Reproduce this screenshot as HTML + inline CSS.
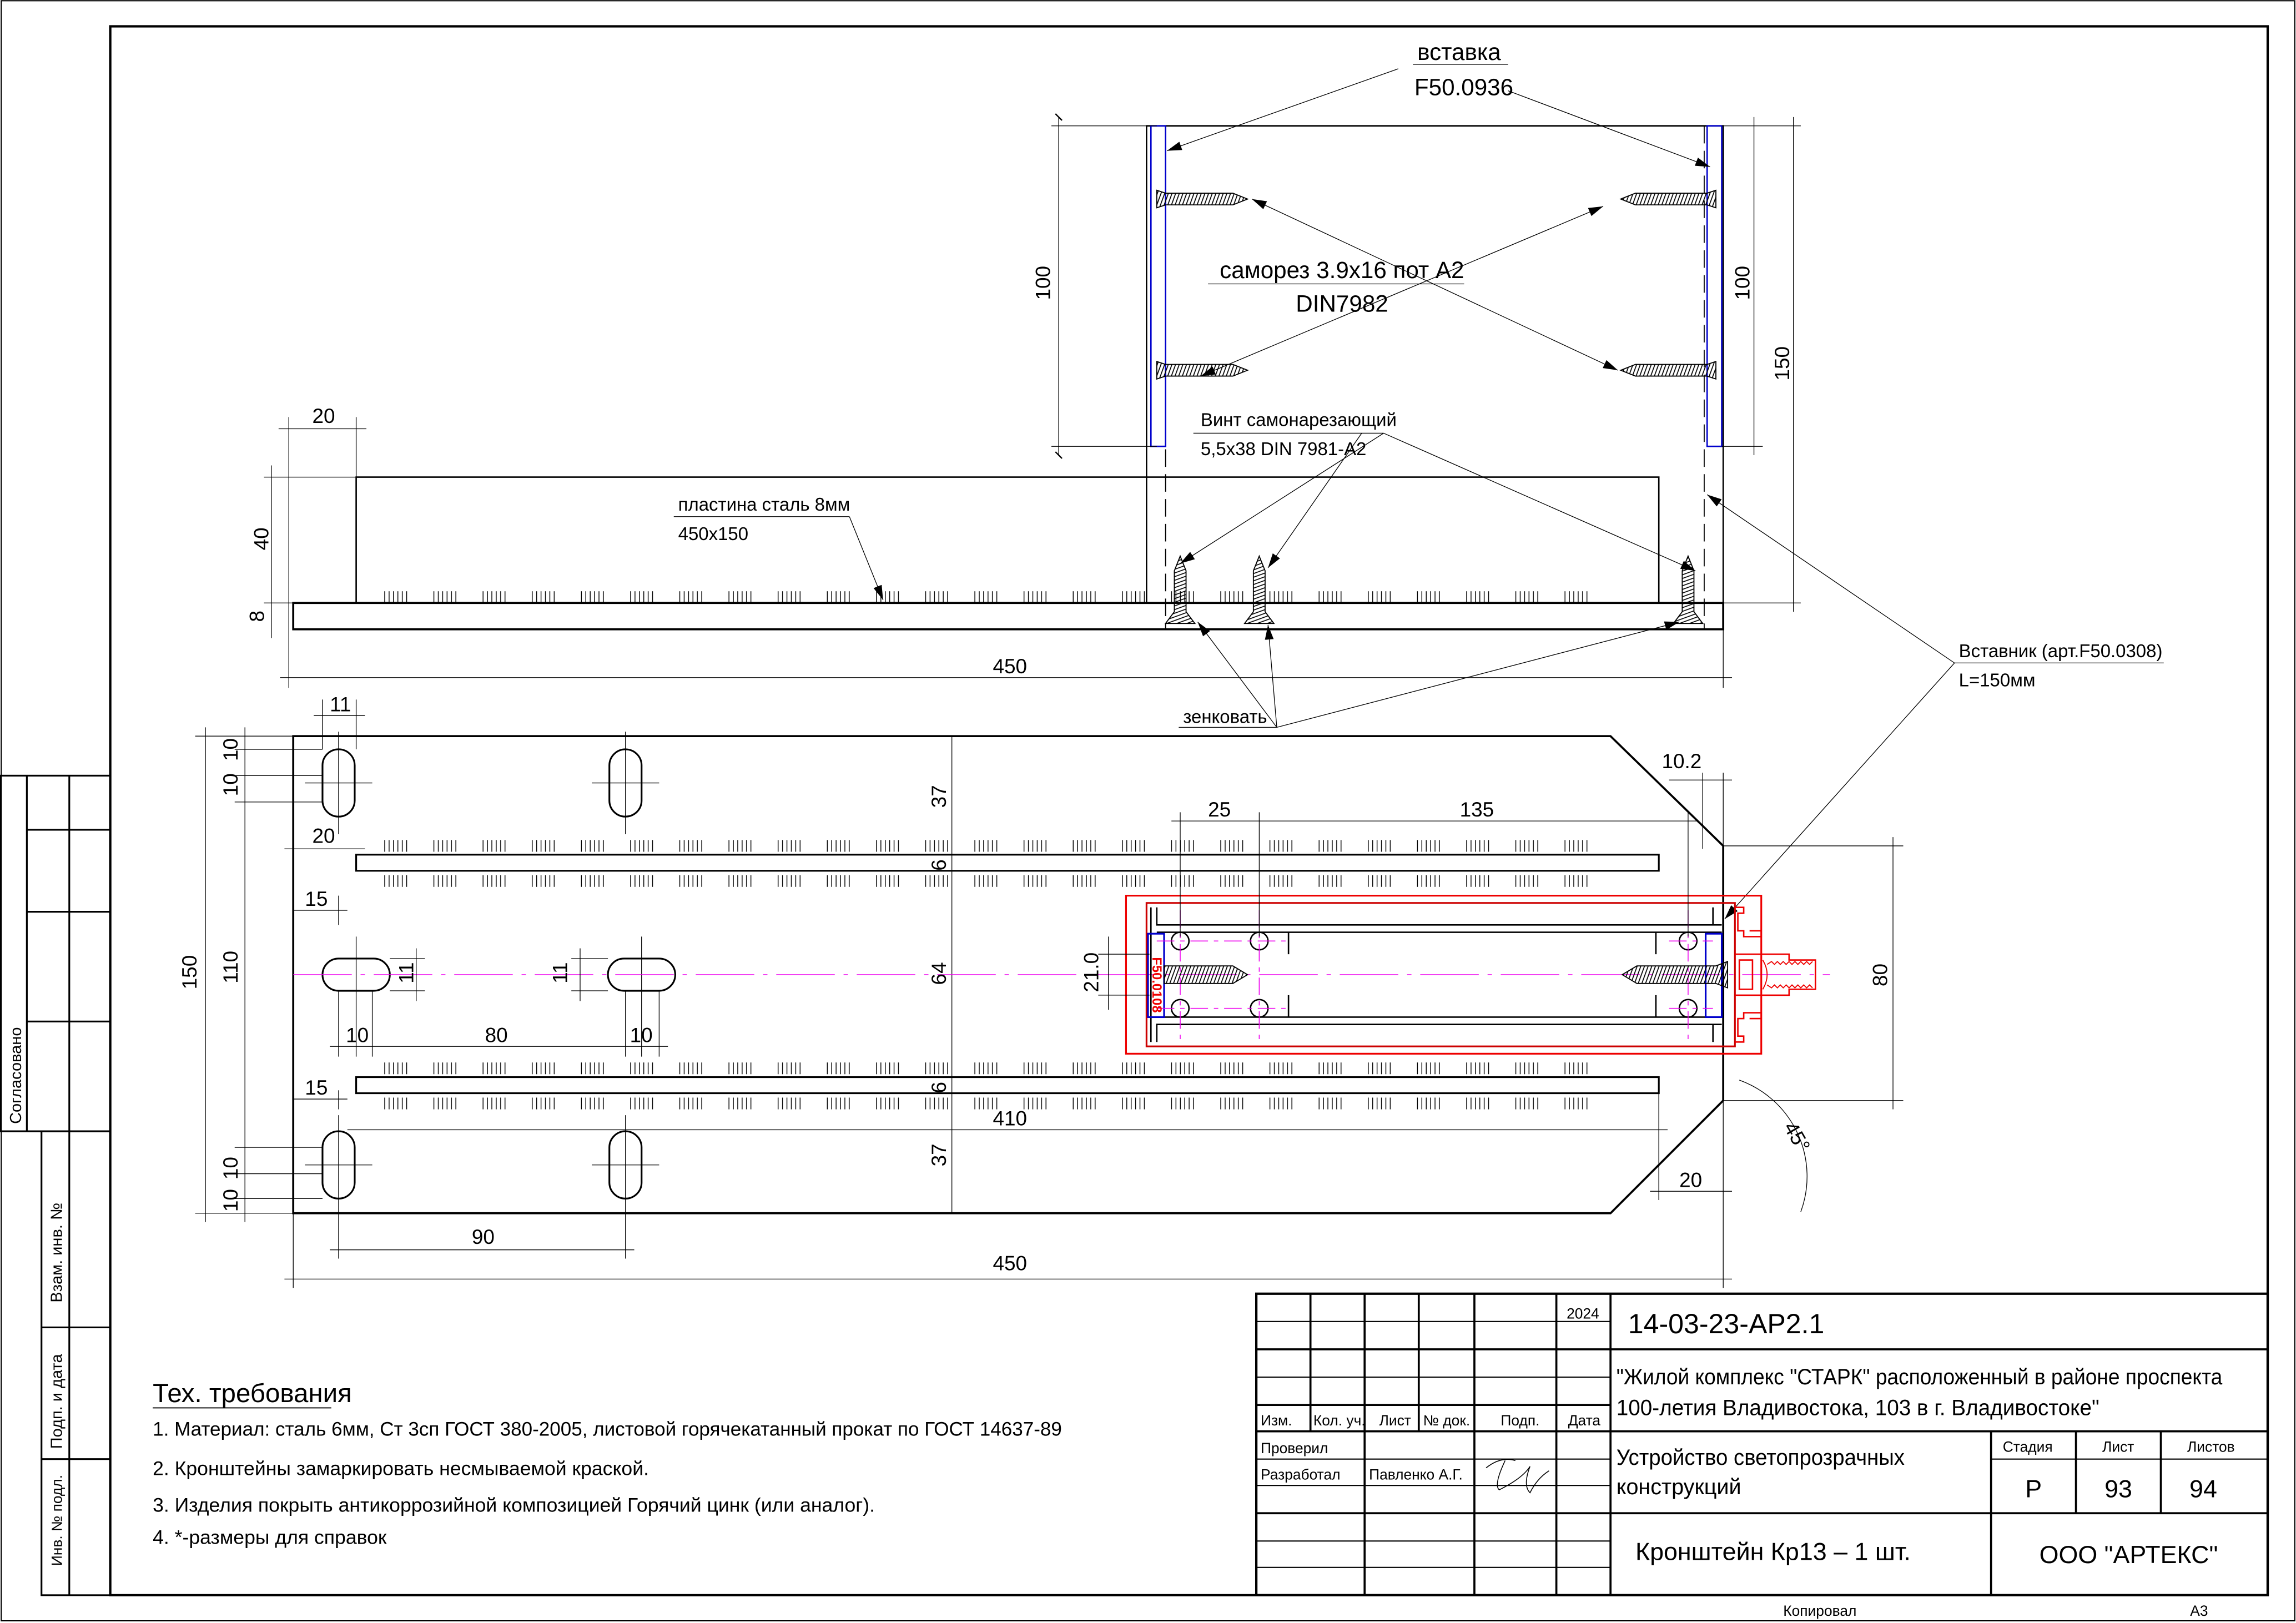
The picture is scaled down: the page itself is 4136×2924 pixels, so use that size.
<!DOCTYPE html>
<html><head><meta charset="utf-8"><style>
html,body{margin:0;padding:0;background:#fff}
svg{display:block}
text{font-family:"Liberation Sans Narrow","Liberation Sans",sans-serif;fill:#000}
</style></head><body>
<svg width="4136" height="2924" viewBox="0 0 1568 1109" xmlns="http://www.w3.org/2000/svg">
<defs>
<pattern id="tk" x="262" y="0" width="33.6" height="10" patternUnits="userSpaceOnUse">
<g stroke="#000" stroke-width="0.55"><line x1="0.5" y1="0" x2="0.5" y2="10"/><line x1="3.5" y1="0" x2="3.5" y2="10"/><line x1="6.5" y1="0" x2="6.5" y2="10"/><line x1="9.5" y1="0" x2="9.5" y2="10"/><line x1="12.5" y1="0" x2="12.5" y2="10"/><line x1="15.5" y1="0" x2="15.5" y2="10"/></g>
</pattern>
<pattern id="hs" width="2.5" height="10" patternUnits="userSpaceOnUse" patternTransform="skewX(-20)"><line x1="1" y1="0" x2="1" y2="10" stroke="#000" stroke-width="0.7"/></pattern>
<pattern id="hv" width="10" height="2.5" patternUnits="userSpaceOnUse" patternTransform="skewY(-20)"><line x1="0" y1="1" x2="10" y2="1" stroke="#000" stroke-width="0.7"/></pattern>
<marker id="ar" viewBox="0 0 10 6" refX="10" refY="3" markerWidth="10" markerHeight="6" markerUnits="userSpaceOnUse" orient="auto"><path d="M0,0L10,3L0,6z" fill="#000"/></marker>
<marker id="as" viewBox="0 0 10 6" refX="0" refY="3" markerWidth="10" markerHeight="6" markerUnits="userSpaceOnUse" orient="auto"><path d="M10,0L0,3L10,6z" fill="#000"/></marker>
<marker id="tkm" viewBox="0 0 8 8" refX="4" refY="4" markerWidth="6" markerHeight="6" markerUnits="userSpaceOnUse" orient="auto"><line x1="1" y1="7" x2="7" y2="1" stroke="#000" stroke-width="1.2"/></marker>
</defs>

<rect x="0.5" y="0.5" width="1567" height="1107" fill="none" stroke="#000" stroke-width="0.8"/>
<rect x="75" y="18" width="1474" height="1072" fill="none" stroke="#000" stroke-width="1.6"/>

<g fill="none" stroke="#000" stroke-width="1.2">
<rect x="0" y="530" width="75" height="243"/>
<line x1="18" y1="530" x2="18" y2="773"/><line x1="47" y1="530" x2="47" y2="773"/>
<line x1="18" y1="567" x2="75" y2="567"/><line x1="18" y1="623" x2="75" y2="623"/><line x1="18" y1="698" x2="75" y2="698"/>
<rect x="28" y="773" width="47" height="317"/>
<line x1="47" y1="773" x2="47" y2="1090"/>
<line x1="28" y1="907" x2="75" y2="907"/><line x1="28" y1="997" x2="75" y2="997"/>
</g>
<g font-size="11">
<text transform="translate(14,768) rotate(-90)">Согласовано</text>
<text transform="translate(42,890) rotate(-90)">Взам. инв. №</text>
<text transform="translate(42,990) rotate(-90)">Подп. и дата</text>
<text transform="translate(42,1070) rotate(-90)" font-size="10">Инв. № подл.</text>
</g>

<g fill="none" stroke="#000">
<rect x="858" y="884" width="691" height="206" stroke-width="1.6"/>
<g stroke-width="0.8">
<line x1="858" y1="903" x2="1100" y2="903"/><line x1="858" y1="941" x2="1100" y2="941"/>
<line x1="858" y1="997" x2="1100" y2="997"/><line x1="858" y1="1015" x2="1100" y2="1015"/>
<line x1="858" y1="1053" x2="1100" y2="1053"/><line x1="858" y1="1071" x2="1100" y2="1071"/>
<line x1="1360" y1="997" x2="1549" y2="997"/>
</g>
<g stroke-width="1.4">
<line x1="858" y1="922" x2="1549" y2="922"/><line x1="858" y1="960" x2="1100" y2="960"/>
<line x1="858" y1="978" x2="1549" y2="978"/><line x1="858" y1="1034" x2="1549" y2="1034"/>
<line x1="895" y1="884" x2="895" y2="978"/><line x1="932" y1="884" x2="932" y2="1090"/>
<line x1="969" y1="884" x2="969" y2="978"/><line x1="1007" y1="884" x2="1007" y2="1090"/>
<line x1="1063" y1="884" x2="1063" y2="1090"/><line x1="1100" y1="884" x2="1100" y2="1090"/>
<line x1="1360" y1="978" x2="1360" y2="1090"/><line x1="1418" y1="978" x2="1418" y2="1034"/>
<line x1="1476" y1="978" x2="1476" y2="1034"/>
</g>
</g>
<g font-size="10">
<text x="1070" y="901">2024</text>
<text x="861" y="974">Изм.</text><text x="897" y="974">Кол. уч.</text><text x="942" y="974">Лист</text><text x="972" y="974">№ док.</text><text x="1025" y="974">Подп.</text><text x="1071" y="974">Дата</text>
<text x="861" y="993">Проверил</text><text x="861" y="1011">Разработал</text><text x="935" y="1011">Павленко А.Г.</text>
<text x="1368" y="992">Стадия</text><text x="1436" y="992">Лист</text><text x="1494" y="992">Листов</text>
<text x="1218" y="1104">Копировал</text><text x="1496" y="1104">А3</text>
</g>
<path d="M1015,1003 Q1025,995 1035,998 M1028,998 Q1020,1015 1024,1018 Q1040,1010 1045,1002 Q1040,1015 1045,1020 Q1050,1010 1058,1005" fill="none" stroke="#000" stroke-width="0.6"/>
<text x="1112" y="911" font-size="19">14-03-23-АР2.1</text>
<text x="1104" y="946" font-size="15" textLength="414" lengthAdjust="spacingAndGlyphs">"Жилой комплекс "СТАРК" расположенный в районе проспекта</text>
<text x="1104" y="967" font-size="15" textLength="330" lengthAdjust="spacingAndGlyphs">100-летия Владивостока, 103 в г. Владивостоке"</text>
<text x="1104" y="1001" font-size="15" transform="translate(1104,0) scale(0.97,1) translate(-1104,0)">Устройство светопрозрачных</text>
<text x="1104" y="1021" font-size="15">конструкций</text>
<text x="1389" y="1023" font-size="17" text-anchor="middle">Р</text>
<text x="1447" y="1023" font-size="17" text-anchor="middle">93</text>
<text x="1505" y="1023" font-size="17" text-anchor="middle">94</text>
<text x="1117" y="1066" font-size="17">Кронштейн Кр13 – 1 шт.</text>
<text x="1454" y="1068" font-size="17" text-anchor="middle">ООО "АРТЕКС"</text>

<text x="104" y="958" font-size="18">Тех. требования</text>
<line x1="104" y1="962" x2="226" y2="962" stroke="#000" stroke-width="0.7"/>
<g font-size="13.5">
<text x="104" y="981" transform="translate(104,0) scale(0.985,1) translate(-104,0)">1. Материал: сталь 6мм, Ст 3сп ГОСТ 380-2005, листовой горячекатанный прокат по ГОСТ 14637-89</text>
<text x="104" y="1008">2. Кронштейны замаркировать несмываемой краской.</text>
<text x="104" y="1033">3. Изделия покрыть антикоррозийной композицией Горячий цинк (или аналог).</text>
<text x="104" y="1055">4. *-размеры для справок</text>
</g>

<g fill="none" stroke="#000">
<rect x="200" y="412" width="977" height="18" stroke-width="1.4"/>
<path d="M243,412 V326 H1133 V412" stroke-width="1"/>
<rect x="262" y="404" width="830" height="8" fill="url(#tk)" stroke="none"/>
<path d="M783,412 V86 H1177 V412" stroke-width="1"/>
<line x1="796" y1="86" x2="796" y2="430" stroke-dasharray="12,5" stroke-width="0.7"/>
<line x1="1164" y1="86" x2="1164" y2="430" stroke-dasharray="12,5" stroke-width="0.7"/>
</g>
<rect x="786" y="86" width="10" height="219" fill="none" stroke="#00c" stroke-width="1"/>
<rect x="1166" y="86" width="10" height="219" fill="none" stroke="#00c" stroke-width="1"/>
<g stroke="#000" stroke-width="0.7">
<path d="M790,130 L796,132 H842 L852,136 L842,140 H796 L790,142z" fill="url(#hs)"/>
<path d="M790,247 L796,249 H842 L852,253 L842,257 H796 L790,259z" fill="url(#hs)"/>
<path d="M1172,130 L1166,132 H1117 L1107,136 L1117,140 H1166 L1172,142z" fill="url(#hs)"/>
<path d="M1172,247 L1166,249 H1117 L1107,253 L1117,257 H1166 L1172,259z" fill="url(#hs)"/>
<path d="M806,380 L810,390 V418 L816,426 H796 L802,418 V390z" fill="url(#hv)"/>
<path d="M860,380 L864,390 V418 L870,426 H850 L856,418 V390z" fill="url(#hv)"/>
<path d="M1153,380 L1157,390 V418 L1163,426 H1143 L1149,418 V390z" fill="url(#hv)"/>
</g>
<g stroke="#000" stroke-width="0.5" fill="none">
<line x1="718" y1="86" x2="790" y2="86"/><line x1="718" y1="305" x2="790" y2="305"/>
<line x1="723" y1="80" x2="723" y2="311" marker-start="url(#tkm)" marker-end="url(#tkm)"/>
<line x1="1176" y1="86" x2="1230" y2="86"/><line x1="1176" y1="305" x2="1204" y2="305"/><line x1="1176" y1="412" x2="1230" y2="412"/>
<line x1="1198" y1="80" x2="1198" y2="311"/><line x1="1225" y1="80" x2="1225" y2="418"/>
<line x1="197" y1="285" x2="197" y2="470"/><line x1="243" y1="285" x2="243" y2="326"/>
<line x1="190" y1="293" x2="250" y2="293"/>
<line x1="180" y1="326" x2="243" y2="326"/><line x1="180" y1="412" x2="200" y2="412"/>
<line x1="185" y1="318" x2="185" y2="436"/>
<line x1="1177" y1="430" x2="1177" y2="470"/>
<line x1="191" y1="463" x2="1183" y2="463"/>
</g>
<g font-size="14">
<text transform="translate(717,205) rotate(-90)">100</text>
<text transform="translate(1195,205) rotate(-90)">100</text>
<text transform="translate(1222,260) rotate(-90)">150</text>
<text x="213" y="289">20</text>
<text transform="translate(183,376) rotate(-90)">40</text>
<text transform="translate(180,425) rotate(-90)">8</text>
<text x="678" y="460">450</text>
</g>
<g stroke="#000" stroke-width="0.5" fill="none">
<line x1="965" y1="44" x2="1030" y2="44"/>
<line x1="955" y1="47" x2="797" y2="103" marker-end="url(#ar)"/>
<line x1="1030" y1="62" x2="1168" y2="114" marker-end="url(#ar)"/>
<line x1="825" y1="194" x2="1000" y2="194"/>
<line x1="855" y1="136" x2="1105" y2="253" marker-start="url(#as)" marker-end="url(#ar)"/>
<line x1="820" y1="257" x2="1095" y2="141" marker-start="url(#as)" marker-end="url(#ar)"/>
<line x1="815" y1="296" x2="945" y2="296"/>
<line x1="945" y1="296" x2="806" y2="385" marker-end="url(#ar)"/>
<line x1="930" y1="296" x2="866" y2="388" marker-end="url(#ar)"/>
<line x1="945" y1="296" x2="1158" y2="390" marker-end="url(#ar)"/>
<line x1="460" y1="353" x2="580" y2="353"/>
<line x1="580" y1="353" x2="603" y2="410" marker-end="url(#ar)"/>
<line x1="805" y1="497" x2="872" y2="497"/>
<line x1="872" y1="497" x2="818" y2="425" marker-end="url(#ar)"/>
<line x1="872" y1="497" x2="866" y2="427" marker-end="url(#ar)"/>
<line x1="872" y1="497" x2="1147" y2="425" marker-end="url(#ar)"/>
<line x1="1335" y1="453" x2="1478" y2="453"/>
<line x1="1335" y1="453" x2="1166" y2="338" marker-end="url(#ar)"/>
<line x1="1335" y1="453" x2="1178" y2="628" marker-end="url(#ar)"/>
</g>
<text x="968" y="41" font-size="16">вставка</text>
<text x="966" y="65" font-size="16">F50.0936</text>
<text x="833" y="190" font-size="16">саморез 3.9х16 пот А2</text>
<text x="885" y="213" font-size="16">DIN7982</text>
<text x="820" y="291" font-size="12.5">Винт самонарезающий</text>
<text x="820" y="311" font-size="12.5">5,5х38 DIN 7981-A2</text>
<text x="463" y="349" font-size="12.5">пластина сталь 8мм</text>
<text x="463" y="369" font-size="12.5">450х150</text>
<text x="808" y="494" font-size="12.5">зенковать</text>
<text x="1338" y="449" font-size="12.5">Вставник (арт.F50.0308)</text>
<text x="1338" y="469" font-size="12.5">L=150мм</text>

<g fill="none" stroke="#000">
<path d="M200,503 H1100 L1177,578 V752 L1100,829 H200z" stroke-width="1.4"/>
<line x1="650" y1="503" x2="650" y2="829" stroke-width="0.5"/>
<rect x="243" y="584" width="890" height="11" stroke-width="1.2"/>
<rect x="243" y="736" width="890" height="11" stroke-width="1.2"/>
<rect x="262" y="574" width="830" height="8" fill="url(#tk)" stroke="none"/>
<rect x="262" y="598" width="830" height="8" fill="url(#tk)" stroke="none"/>
<rect x="262" y="726" width="830" height="8" fill="url(#tk)" stroke="none"/>
<rect x="262" y="750" width="830" height="8" fill="url(#tk)" stroke="none"/>
<g stroke-width="1.2">
<rect x="220" y="512" width="22" height="46" rx="11"/>
<rect x="416" y="512" width="22" height="46" rx="11"/>
<rect x="220" y="773" width="22" height="46" rx="11"/>
<rect x="416" y="773" width="22" height="46" rx="11"/>
<rect x="220" y="655" width="46" height="22" rx="11"/>
<rect x="415" y="655" width="46" height="22" rx="11"/>
</g>
<g stroke-width="0.5">
<line x1="231" y1="500" x2="231" y2="570"/><line x1="208" y1="535" x2="254" y2="535"/>
<line x1="427" y1="500" x2="427" y2="570"/><line x1="404" y1="535" x2="450" y2="535"/>
<line x1="231" y1="762" x2="231" y2="860"/><line x1="208" y1="796" x2="254" y2="796"/>
<line x1="427" y1="762" x2="427" y2="860"/><line x1="404" y1="796" x2="450" y2="796"/>
<line x1="243" y1="640" x2="243" y2="722"/><line x1="438" y1="640" x2="438" y2="722"/>
</g>
</g>
<line x1="200" y1="666" x2="1250" y2="666" stroke="#e0e" stroke-width="0.6" stroke-dasharray="40,6,3,6"/>
<g fill="none">
<rect x="769" y="612" width="434" height="108" stroke="#e00" stroke-width="1.2"/>
<rect x="783" y="617" width="402" height="98" stroke="#c00" stroke-width="1.2"/>
<path d="M1185,620 h6 v4 h-4 v12 h4 v4 h12 v-4 h-8 M1185,712 h6 v-4 h-4 v-12 h4 v-4 h12 v4 h-8 M1185,652 h37 v4 h18 v20 h-18 v4 h-37 M1188,656 h9 v20 h-9z" stroke="#e00" stroke-width="1"/>
<path d="M1204,656 q6,10 0,20 M1207,659 l3,-2 l2,2 l2,-2 l2,2 l2,-2 l2,2 l2,-2 l2,2 l2,-2 l2,2 l2,-2 l2,2 l2,-2 l2,2 l2,-2 M1207,673 l3,2 l2,-2 l2,2 l2,-2 l2,2 l2,-2 l2,2 l2,-2 l2,2 l2,-2 l2,2 l2,-2 l2,2 l2,-2 l2,2" stroke="#e00" stroke-width="0.7"/>
<g stroke="#000" stroke-width="1">
<path d="M786,620 V712 M790,620 V632 H1176 M790,712 V700 H1176 M790,637 H1176 M790,695 H1176"/>
<path d="M1170,620 V632 M1170,712 V700 M1131,637 V652 M1131,680 V695 M880,637 V652 M880,680 V695"/>
</g>
<g stroke="#000" stroke-width="1"><circle cx="806" cy="643" r="6"/><circle cx="860" cy="643" r="6"/><circle cx="1153" cy="643" r="6"/><circle cx="806" cy="689" r="6"/><circle cx="860" cy="689" r="6"/><circle cx="1153" cy="689" r="6"/></g>
<rect x="784" y="638" width="11" height="57" stroke="#00c" stroke-width="1.2"/>
<rect x="1165" y="638" width="11" height="57" stroke="#00c" stroke-width="1.2"/>
</g>
<g stroke="#e0e" stroke-width="0.6" stroke-dasharray="12,4,3,4">
<line x1="806" y1="622" x2="806" y2="712"/><line x1="860" y1="622" x2="860" y2="712"/><line x1="1153" y1="622" x2="1153" y2="712"/>
<line x1="790" y1="643" x2="880" y2="643"/><line x1="790" y1="689" x2="880" y2="689"/>
<line x1="1140" y1="643" x2="1170" y2="643"/><line x1="1140" y1="689" x2="1170" y2="689"/>
</g>
<g stroke="#000" stroke-width="0.7">
<path d="M795,660 H842 L852,666 L842,672 H795z" fill="url(#hs)"/>
<path d="M1180,657 L1172,660 H1118 L1108,666 L1118,672 H1172 L1180,675z" fill="url(#hs)"/>
</g>
<text transform="translate(787,654) rotate(90)" font-size="9" style="fill:#e00;font-weight:bold">F50.0108</text>

<g stroke="#000" stroke-width="0.5" fill="none">
<line x1="133" y1="503" x2="200" y2="503"/><line x1="133" y1="829" x2="200" y2="829"/>
<line x1="140" y1="497" x2="140" y2="835"/>
<line x1="160" y1="512" x2="220" y2="512"/><line x1="160" y1="530" x2="220" y2="530"/><line x1="160" y1="548" x2="220" y2="548"/>
<line x1="160" y1="784" x2="220" y2="784"/><line x1="160" y1="802" x2="220" y2="802"/><line x1="160" y1="819" x2="220" y2="819"/>
<line x1="167" y1="497" x2="167" y2="835"/>
<line x1="220" y1="478" x2="220" y2="512"/><line x1="243" y1="478" x2="243" y2="512"/>
<line x1="214" y1="489" x2="249" y2="489"/>
<line x1="194" y1="580" x2="249" y2="580"/>
<line x1="200" y1="622" x2="237" y2="622"/><line x1="200" y1="751" x2="237" y2="751"/>
<line x1="231" y1="612" x2="231" y2="632"/>
<line x1="231" y1="745" x2="231" y2="758"/>
<line x1="266" y1="655" x2="290" y2="655"/><line x1="266" y1="677" x2="290" y2="677"/><line x1="284" y1="648" x2="284" y2="684"/>
<line x1="390" y1="655" x2="415" y2="655"/><line x1="390" y1="677" x2="415" y2="677"/><line x1="396" y1="648" x2="396" y2="684"/>
<line x1="231" y1="677" x2="231" y2="722"/><line x1="254" y1="677" x2="254" y2="722"/>
<line x1="427" y1="677" x2="427" y2="722"/><line x1="450" y1="677" x2="450" y2="722"/>
<line x1="225" y1="715" x2="456" y2="715"/>
<line x1="225" y1="854" x2="433" y2="854"/>
<line x1="200" y1="829" x2="200" y2="880"/><line x1="1177" y1="752" x2="1177" y2="880"/>
<line x1="194" y1="874" x2="1183" y2="874"/>
<line x1="237" y1="772" x2="1139" y2="772"/>
<line x1="1133" y1="747" x2="1133" y2="820"/><line x1="1127" y1="814" x2="1183" y2="814"/>
<line x1="806" y1="555" x2="806" y2="640"/><line x1="860" y1="555" x2="860" y2="640"/><line x1="1153" y1="555" x2="1153" y2="640"/>
<line x1="800" y1="561" x2="1159" y2="561"/>
<line x1="1163" y1="528" x2="1163" y2="580"/><line x1="1177" y1="528" x2="1177" y2="580"/>
<line x1="1140" y1="533" x2="1183" y2="533"/>
<line x1="750" y1="652" x2="785" y2="652"/><line x1="750" y1="680" x2="785" y2="680"/><line x1="757" y1="640" x2="757" y2="690"/>
<line x1="1177" y1="578" x2="1300" y2="578"/><line x1="1177" y1="752" x2="1300" y2="752"/>
<line x1="1293" y1="572" x2="1293" y2="758"/>
<path d="M1188,738 A70,70 0 0 1 1230,828"/>
</g>
<g font-size="14">
<text transform="translate(134,676) rotate(-90)">150</text>
<text transform="translate(162,672) rotate(-90)">110</text>
<text transform="translate(162,520) rotate(-90)">10</text>
<text transform="translate(162,544) rotate(-90)">10</text>
<text transform="translate(162,806) rotate(-90)">10</text>
<text transform="translate(162,828) rotate(-90)">10</text>
<text x="225" y="486">11</text>
<text x="213" y="576">20</text>
<text x="208" y="619">15</text>
<text x="208" y="748">15</text>
<text transform="translate(282,672) rotate(-90)">11</text>
<text transform="translate(387,672) rotate(-90)">11</text>
<text x="236" y="712">10</text>
<text x="331" y="712">80</text>
<text x="430" y="712">10</text>
<text x="322" y="850">90</text>
<text x="678" y="868">450</text>
<text x="678" y="769">410</text>
<text transform="translate(646,552) rotate(-90)">37</text>
<text transform="translate(646,595) rotate(-90)">6</text>
<text transform="translate(646,673) rotate(-90)">64</text>
<text transform="translate(646,747) rotate(-90)">6</text>
<text transform="translate(646,797) rotate(-90)">37</text>
<text x="1147" y="811">20</text>
<text x="825" y="558">25</text>
<text x="997" y="558">135</text>
<text x="1135" y="525">10.2</text>
<text transform="translate(750,678) rotate(-90)">21.0</text>
<text transform="translate(1289,674) rotate(-90)">80</text>
<text transform="translate(1218,770) rotate(60)">45°</text>
</g>
</svg>
</body></html>
